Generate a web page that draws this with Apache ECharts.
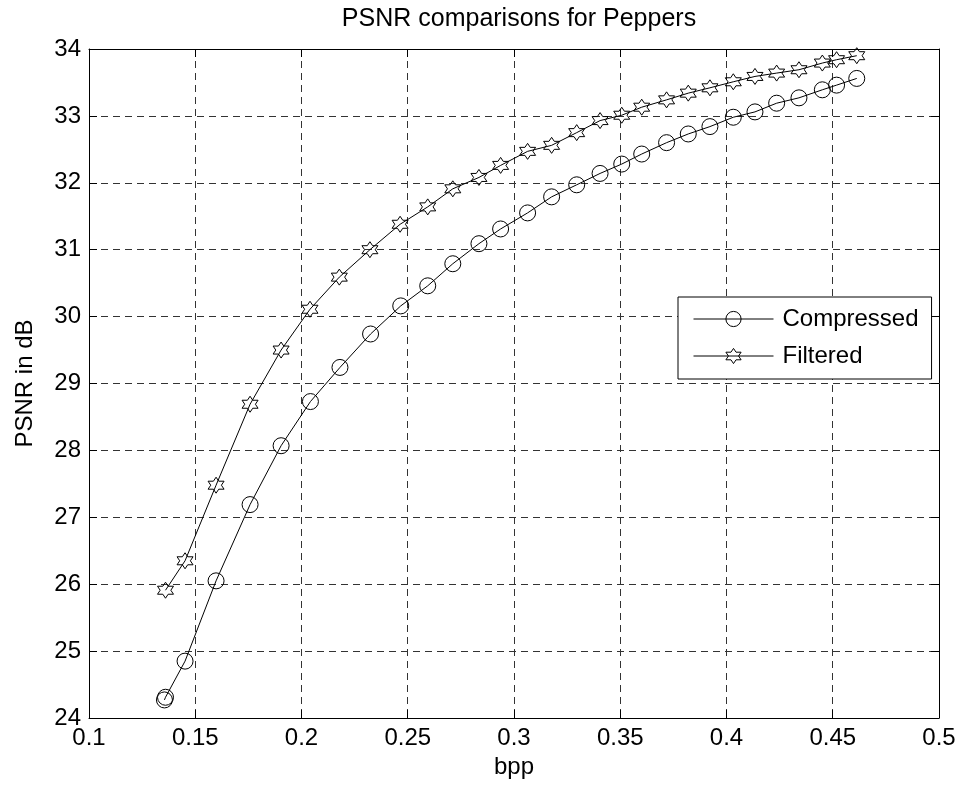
<!DOCTYPE html>
<html>
<head>
<meta charset="utf-8">
<script src="https://cdn.jsdelivr.net/npm/echarts@6/dist/echarts.min.js"></script>
<style>
  html, body { margin: 0; padding: 0; background: #fff; }
  #chart { width: 964px; height: 792px; }
</style>
</head>
<body>
<div id="chart"></div>
<script>
// Rate-distortion measurements (bits per pixel vs PSNR) for the Peppers image
const bppCompressed = [0.1355, 0.1360, 0.1452, 0.1598, 0.1758, 0.1904, 0.2042, 0.2181, 0.2325, 0.2467,
  0.2594, 0.2712, 0.2835, 0.2937, 0.3064, 0.3177, 0.3295, 0.3405, 0.3507, 0.3601,
  0.3718, 0.3820, 0.3922, 0.4032, 0.4134, 0.4236, 0.4341, 0.4451, 0.4518, 0.4613];
const psnrCompressed = [24.27, 24.31, 24.85, 26.05, 27.19, 28.07, 28.73, 29.24, 29.74, 30.16,
  30.46, 30.79, 31.09, 31.31, 31.55, 31.79, 31.97, 32.14, 32.28, 32.43,
  32.60, 32.73, 32.84, 32.98, 33.06, 33.19, 33.27, 33.39, 33.46, 33.56];

const bppFiltered = [0.1360, 0.1452, 0.1598, 0.1758, 0.1904, 0.2040, 0.2178, 0.2322, 0.2464, 0.2594,
  0.2712, 0.2835, 0.2937, 0.3064, 0.3177, 0.3295, 0.3405, 0.3507, 0.3601, 0.3718,
  0.3820, 0.3922, 0.4032, 0.4134, 0.4236, 0.4341, 0.4451, 0.4518, 0.4613];
const psnrFiltered = [25.91, 26.35, 27.48, 28.69, 29.50, 30.11, 30.59, 31.00, 31.38, 31.64,
  31.91, 32.08, 32.26, 32.47, 32.56, 32.75, 32.93, 33.01, 33.13, 33.24,
  33.34, 33.42, 33.51, 33.59, 33.64, 33.69, 33.79, 33.84, 33.90];

const seriesNames = ['Compressed', 'Filtered'];
const xTicks = { min: 0.1, max: 0.5, step: 0.05 };
const yTicks = { min: 24, max: 34, step: 1 };

// Six-pointed star outline used as the "Filtered" marker
function hexagramPath() {
  const R = 10, r = R / Math.sqrt(3);
  let d = '';
  for (let k = 0; k < 12; k++) {
    const a = -Math.PI / 2 + k * Math.PI / 6;
    const rad = k % 2 === 0 ? R : r;
    const x = (R + rad * Math.cos(a)).toFixed(3);
    const y = (R + rad * Math.sin(a)).toFixed(3);
    d += (k === 0 ? 'M' : 'L') + x + ' ' + y + ' ';
  }
  return 'path://' + d + 'Z';
}

const FONT = '"Liberation Sans", Arial, Helvetica, sans-serif';
const pairs = (xs, ys) => xs.map((x, i) => [x, ys[i]]);

const gridLine = { show: true, lineStyle: { color: '#333', width: 1, type: [7, 5] } };
const axisLine = { show: true, onZero: false, lineStyle: { color: '#000', width: 1 } };
const tick = { show: true, inside: true, length: 8, lineStyle: { color: '#000' } };
const label = { color: '#000', fontFamily: FONT, fontSize: 24 };

const chart = echarts.init(document.getElementById('chart'), null, { renderer: 'canvas' });

chart.setOption({
  backgroundColor: '#fff',
  animation: false,
  title: {
    text: 'PSNR comparisons for Peppers',
    left: 514, textAlign: 'center', top: 2,
    textStyle: { color: '#000', fontFamily: FONT, fontSize: 25, fontWeight: 'normal' }
  },
  grid: { left: 89, right: 25, top: 49, bottom: 74, containLabel: false },
  legend: {
    orient: 'vertical',
    left: 678, top: 297,
    padding: [10, 13, 11, 15],
    itemWidth: 80, itemHeight: 19, itemGap: 13,
    borderColor: '#000', borderWidth: 1, borderRadius: 0,
    backgroundColor: '#fff',
    lineStyle: { width: 1, color: '#000' },
    itemStyle: { color: 'rgba(0,0,0,0)', borderColor: '#000', borderWidth: 1 },
    textStyle: { color: '#000', fontFamily: FONT, fontSize: 24, lineHeight: 24, padding: [0, 0, 0, 4] },
    data: seriesNames
  },
  xAxis: [{
    type: 'value', min: xTicks.min, max: xTicks.max, interval: xTicks.step,
    name: 'bpp', nameLocation: 'middle', nameGap: 34,
    nameTextStyle: { color: '#000', fontFamily: FONT, fontSize: 24 },
    axisLine, axisTick: tick, splitLine: gridLine,
    axisLabel: Object.assign({ margin: 8, formatter: v => String(+v.toFixed(2)) }, label)
  }, {
    type: 'value', position: 'top', min: xTicks.min, max: xTicks.max, interval: xTicks.step,
    axisLine, axisTick: tick, splitLine: { show: false }, axisLabel: { show: false }
  }],
  yAxis: [{
    type: 'value', min: yTicks.min, max: yTicks.max, interval: yTicks.step,
    name: 'PSNR in dB', nameLocation: 'middle', nameGap: 52,
    nameTextStyle: { color: '#000', fontFamily: FONT, fontSize: 24 },
    axisLine, axisTick: tick, splitLine: gridLine,
    axisLabel: Object.assign({ margin: 8 }, label)
  }, {
    type: 'value', position: 'right', min: yTicks.min, max: yTicks.max, interval: yTicks.step,
    axisLine, axisTick: tick, splitLine: { show: false }, axisLabel: { show: false }
  }],
  series: [{
    name: seriesNames[0],
    type: 'line',
    data: pairs(bppCompressed, psnrCompressed),
    symbol: 'circle', symbolSize: 16, showAllSymbol: true,
    lineStyle: { color: '#000', width: 1 },
    itemStyle: { color: 'rgba(0,0,0,0)', borderColor: '#000', borderWidth: 1 },
    emphasis: { disabled: true }
  }, {
    name: seriesNames[1],
    type: 'line',
    data: pairs(bppFiltered, psnrFiltered),
    symbol: hexagramPath(), symbolSize: 16, showAllSymbol: true,
    lineStyle: { color: '#000', width: 1 },
    itemStyle: { color: 'rgba(0,0,0,0)', borderColor: '#000', borderWidth: 1 },
    emphasis: { disabled: true }
  }]
});
</script>
</body>
</html>
